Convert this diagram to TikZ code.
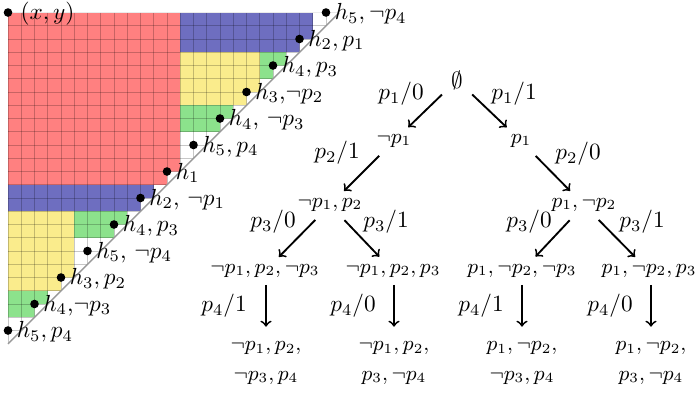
\documentclass[tikz,border=0pt]{standalone}
\definecolor{cred}{RGB}{255,128,128}
\definecolor{cblue}{RGB}{110,110,192}
\definecolor{cyellow}{RGB}{250,236,140}
\definecolor{cgreen}{RGB}{140,226,140}
\begin{document}
\begin{tikzpicture}[x=0.43pt,y=-0.43pt,
  gridline/.style={draw=black,opacity=0.22,line width=0.4pt},
  diagline/.style={draw=black!40,line width=0.6pt},
  dot/.style={circle,fill=black,inner sep=0pt,minimum size=3.7pt},
  hl/.style={anchor=west,inner sep=0pt,xshift=3.6pt,yshift=-0.6pt},
  lab/.style={inner sep=0pt},
  st/.style={inner sep=0pt,font=\small},
  leaf/.style={inner sep=0pt,font=\small,align=center},
  arr/.style={->,line width=0.8pt,shorten <=9pt,shorten >=8.5pt},
  varr/.style={->,line width=0.8pt,shorten <=6pt,shorten >=15.6pt}]
\useasboundingbox (0,0) rectangle (696,393);
% ---------- staircase grid ----------
\begin{scope}[shift={(8,12.5)},x=5.6975pt,y=-5.6975pt]
  \begin{scope}
    \clip (0,0) \foreach \k in {0,...,23}{ -- ({24-\k},\k) -- ({24-\k},{\k+1}) } -- (0,24) -- cycle;
    \fill[cred] (0,0) rectangle (13,13);
    \fill[cblue] (13,0) rectangle (23,3);
    \fill[cyellow] (13,3) rectangle (19,7);
    \fill[cgreen] (19,3) rectangle (21,5);
    \fill[cgreen] (13,7) rectangle (17,9);
    \fill[cblue] (0,13) rectangle (11,15);
    \fill[cyellow] (0,15) rectangle (5,21);
    \fill[cgreen] (5,15) rectangle (9,17);
    \fill[cgreen] (0,21) rectangle (3,23);
  \end{scope}
  \begin{scope}
    \clip (0,0) -- (25,0) -- (0,25) -- cycle;
    \foreach \i in {0,...,25}{
      \draw[gridline] (\i,0) -- (\i,25);
      \draw[gridline] (0,\i) -- (25,\i);
    }
  \end{scope}
  \draw[diagline] (25,0) -- (0,25);
  \node[dot] (d0) at (0,0) {};
  \node[hl,xshift=1.6pt] (l0) at (d0) {$(x,y)$};
  \node[dot] (d1) at (24,0) {};
  \node[hl] (l1) at (d1) {$h_5,\neg p_4$};
  \node[dot] (d2) at (22,2) {};
  \node[hl] (l2) at (d2) {$h_2,p_1$};
  \node[dot] (d3) at (20,4) {};
  \node[hl] (l3) at (d3) {$h_4,p_3$};
  \node[dot] (d4) at (18,6) {};
  \node[hl] (l4) at (d4) {$h_3$,$\neg p_2$};
  \node[dot] (d5) at (16,8) {};
  \node[hl] (l5) at (d5) {$h_4$, $\neg p_3$};
  \node[dot] (d6) at (14,10) {};
  \node[hl] (l6) at (d6) {$h_5,p_4$};
  \node[dot] (d7) at (12,12) {};
  \node[hl] (l7) at (d7) {$h_1$};
  \node[dot] (d8) at (10,14) {};
  \node[hl] (l8) at (d8) {$h_2$, $\neg p_1$};
  \node[dot] (d9) at (8,16) {};
  \node[hl] (l9) at (d9) {$h_4,p_3$};
  \node[dot] (d10) at (6,18) {};
  \node[hl] (l10) at (d10) {$h_5$, $\neg p_4$};
  \node[dot] (d11) at (4,20) {};
  \node[hl] (l11) at (d11) {$h_3,p_2$};
  \node[dot] (d12) at (2,22) {};
  \node[hl] (l12) at (d12) {$h_4$,$\neg p_3$};
  \node[dot] (d13) at (0,24) {};
  \node[hl] (l13) at (d13) {$h_5,p_4$};
\end{scope}
% ---------- tree ----------
\node[lab] (r) at (457,80) {$\emptyset$};
\node[st] (a) at (394,141) {$\neg p_1$};
\node[st] (b) at (521,141) {$p_1$};
\node[st] (aa) at (330,205) {$\neg p_1, p_2$};
\node[st] (bb) at (584,205) {$p_1, \neg p_2$};
\node[st] (aaa) at (265,271) {$\neg p_1, p_2, \neg p_3$};
\node[st] (aab) at (393,271) {$\neg p_1, p_2, p_3$};
\node[st] (bba) at (522,271) {$p_1, \neg p_2, \neg p_3$};
\node[st] (bbb) at (649,271) {$p_1, \neg p_2, p_3$};
\node[leaf] (la) at (266,363) {$\neg p_1, p_2,$\\[1.5pt]$\neg p_3, p_4$};
\node[leaf] (lb) at (394,363) {$\neg p_1, p_2,$\\[1.5pt]$p_3, \neg p_4$};
\node[leaf] (lc) at (522,363) {$p_1, \neg p_2,$\\[1.5pt]$\neg p_3, p_4$};
\node[leaf] (ld) at (651,363) {$p_1, \neg p_2,$\\[1.5pt]$p_3, \neg p_4$};
% edge labels
\node[lab] (e1) at (401,94) {$p_1/0$};
\node[lab] (e2) at (514,94) {$p_1/1$};
\node[lab] (e3) at (337,153) {$p_2/1$};
\node[lab] (e4) at (578,154) {$p_2/0$};
\node[lab] (e5) at (273,222) {$p_3/0$};
\node[lab] (e6) at (386,222) {$p_3/1$};
\node[lab] (e7) at (529,222) {$p_3/0$};
\node[lab] (e8) at (642,222) {$p_3/1$};
\node[lab] (e9) at (224,306) {$p_4/1$};
\node[lab] (e10) at (353,306) {$p_4/0$};
\node[lab] (e11) at (481,306) {$p_4/1$};
\node[lab] (e12) at (610,306) {$p_4/0$};
% connectors
\draw[arr] (r.center) -- (a.center);
\draw[arr] (r.center) -- (b.center);
\draw[arr] (a.center) -- (aa.center);
\draw[arr] (b.center) -- (bb.center);
\draw[arr] (aa.center) -- (aaa.center);
\draw[arr] (aa.center) -- (aab.center);
\draw[arr] (bb.center) -- (bba.center);
\draw[arr] (bb.center) -- (bbb.center);
\draw[varr] (la |- aaa) -- (la.center);
\draw[varr] (lb |- aab) -- (lb.center);
\draw[varr] (lc |- bba) -- (lc.center);
\draw[varr] (ld |- bbb) -- (ld.center);
\end{tikzpicture}
\end{document}
